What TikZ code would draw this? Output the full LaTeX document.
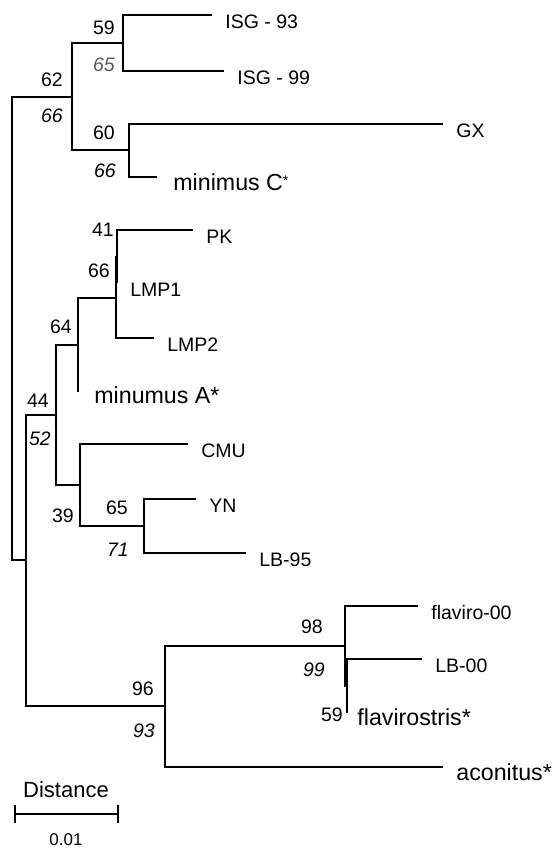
\documentclass[tikz,border=0pt]{standalone}
\usepackage{fontspec}
\setmainfont{Liberation Sans}
\usetikzlibrary{positioning}

\begin{document}
\begin{tikzpicture}[x=0.5pt, y=-0.5pt,
		branch/.style={line width=0.9pt},
		leaf/.style={anchor=base west, inner sep=0pt, xshift=6.5pt, yshift=-6.5pt, font=\fontsize{9.75}{11}\selectfont},
		bigleaf/.style={leaf, xshift=1.5pt, font=\fontsize{11.6}{13}\selectfont},
		boot/.style={anchor=base, inner sep=0pt, font=\fontsize{9.75}{11}\selectfont},
		bootit/.style={boot, font=\fontsize{9.75}{11}\selectfont\itshape}]
	
	\useasboundingbox (0,0) rectangle (556,848);
	
	% --- internal nodes (x = distance, y = middle of children) ---
	\coordinate (root) at (12,328);
	\coordinate (n62) at (72,97);
	\coordinate (n59) at (123,43);
	\coordinate (n60) at (129,150);
	\coordinate (nIn) at (26,560);
	\coordinate (n44) at (56,415);
	\coordinate (n64) at (78,345);
	\coordinate (n66) at (116,298);
	\coordinate (n41) at (117,257);
	\coordinate (n39) at (80,485);
	\coordinate (n65) at (144,526);
	\coordinate (n96) at (165,706);
	\coordinate (n98) at (345,646);
	\coordinate (n59b) at (347,686);
	
	% --- tips ---
	\coordinate (isg93) at (212,15);
	\coordinate (isg99) at (224,71);
	\coordinate (gx) at (443,124);
	\coordinate (minC) at (157,177);
	\coordinate (pk) at (193,230);
	\coordinate (lmp1) at (117,283);
	\coordinate (lmp2) at (154,338);
	\coordinate (minA) at (78,392);
	\coordinate (cmu) at (188,444);
	\coordinate (yn) at (196,499);
	\coordinate (lb95) at (246,553);
	\coordinate (flav00) at (418,606);
	\coordinate (lb00) at (422,659);
	\coordinate (flavir) at (347,713);
	\coordinate (acon) at (443,767);
	
	% Branches (parent/child)
	\foreach \p/\c in {root/n62, root/nIn, n62/n59, n62/n60, n59/isg93, n59/isg99,
		n60/gx, n60/minC, nIn/n44, nIn/n96, n44/n64, n44/n39, n64/n66, n64/minA,
		n66/n41, n66/lmp2, n41/pk, n41/lmp1, n39/cmu, n39/n65, n65/yn, n65/lb95,
		n96/n98, n96/acon, n98/flav00, n98/n59b, n59b/lb00, n59b/flavir}
	\draw[branch] (\p) |- (\c);
	
	% Taxa
	\node[leaf] (tisg93) at (isg93) {ISG - 93};
	\node[leaf] (tisg99) at (isg99) {ISG - 99};
	\node[leaf] (tgx) at (gx) {GX};
	\node[bigleaf] (tminC) at (minC) {minimus C\raisebox{0.35ex}{\fontsize{7}{7}\selectfont *}};
	\node[leaf] (tpk) at (pk) {PK};
	\node[leaf] (tlmp1) at (lmp1) {LMP1};
	\node[leaf] (tlmp2) at (lmp2) {LMP2};
	\node[bigleaf, yshift=1pt] (tminA) at (minA) {minumus A*};
	\node[leaf] (tcmu) at (cmu) {CMU};
	\node[leaf] (tyn) at (yn) {YN};
	\node[leaf] (tlb95) at (lb95) {LB-95};
	\node[leaf] (tflav00) at (flav00) {flaviro-00};
	\node[leaf] (tlb00) at (lb00) {LB-00};
	\node[bigleaf, xshift=-3pt, yshift=0.5pt] (tflavir) at (flavir) {flavirostris*};
	\node[bigleaf, xshift=-1.5pt] (tacon) at (acon) {aconitus*};
	
	% Bootstrap values (italic = second method)
	\node[boot] (b59) at (104,34) {59};
	\node[bootit, black!65] (b65) at (104,71) {65};
	\node[boot] (b62) at (52,86) {62};
	\node[bootit] (b66a) at (52,122) {66};
	\node[boot] (b60) at (104,139) {60};
	\node[bootit] (b66b) at (105,177) {66};
	\node[boot] (b41) at (103,236) {41};
	\node[boot] (b66c) at (99,277) {66};
	\node[boot] (b64) at (61,333) {64};
	\node[boot] (b44) at (38,407) {44};
	\node[bootit] (b52) at (40,445) {52};
	\node[boot] (b39) at (63,522) {39};
	\node[boot] (b65b) at (117,514) {65};
	\node[bootit] (b71) at (118,556) {71};
	\node[boot] (b96) at (143,695) {96};
	\node[bootit] (b93) at (144,737) {93};
	\node[boot] (b98) at (312,633) {98};
	\node[bootit] (b99) at (314,676) {99};
	\node[boot] (b59b) at (332,721) {59};
	
	% Scale bar
	\coordinate (sbL) at (15,814);
	\coordinate (sbR) at (118,814);
	\draw[branch] (sbL) -- (sbR);
	\draw[branch] ([yshift=4.5pt]sbL) -- ([yshift=-4.5pt]sbL);
	\draw[branch] ([yshift=4.5pt]sbR) -- ([yshift=-4.5pt]sbR);
	\node[anchor=base, inner sep=0pt, font=\fontsize{11}{13}\selectfont] (dist) at (66,797) {Distance};
	\node[anchor=base, inner sep=0pt, font=\fontsize{8.5}{10}\selectfont] (sbval) at (66,845) {0.01};
	
\end{tikzpicture}
\end{document}
